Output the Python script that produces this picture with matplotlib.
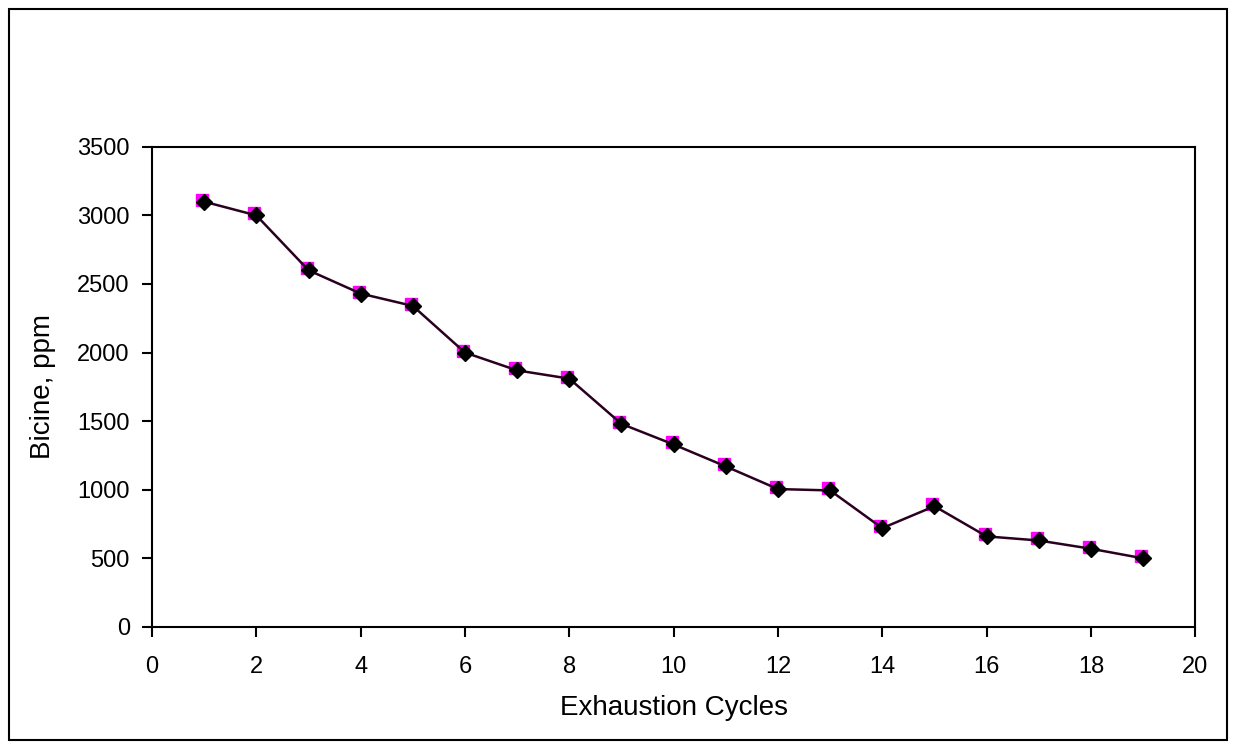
import matplotlib
matplotlib.use("Agg")
import matplotlib.pyplot as plt
import matplotlib.transforms as mtransforms
from matplotlib.patches import Rectangle

cycles = list(range(1, 20))
bicine = [3100, 3000, 2600, 2430, 2340, 2000, 1870, 1810, 1480, 1330,
          1170, 1005, 995, 720, 880, 660, 630, 570, 500]

plt.rcParams['font.family'] = ['Liberation Sans', 'DejaVu Sans']

fig = plt.figure(figsize=(12.36, 7.49), dpi=100)
ax = fig.add_axes([0.123, 0.163, 0.844, 0.641])

# magenta squares sit a touch up-left of the diamonds, as in the original
shift = mtransforms.ScaledTranslation(-2 / 100, 2 / 100, fig.dpi_scale_trans)
ax.plot(cycles, bicine, ls='none', marker='s', ms=9,
        mec='#FF00FF', mfc='#FF00FF', transform=ax.transData + shift)
ax.plot(cycles, bicine, color='#2a0020', lw=1.8, marker='D', ms=8,
        mec='black', mfc='black')

ax.set_xlim(0, 20)
ax.set_ylim(0, 3500)
ax.set_xticks(range(0, 21, 2))
ax.set_yticks(range(0, 3501, 500))
ax.tick_params(direction='out', length=7, width=1.5, labelsize=17)
ax.tick_params(axis='x', pad=14)
ax.tick_params(axis='y', pad=9)
for s in ax.spines.values():
    s.set_linewidth(1.5)
ax.set_xlabel("Exhaustion Cycles", fontsize=20, labelpad=12)
ax.set_ylabel("Bicine, ppm", fontsize=20, labelpad=15)

fig.patches.append(Rectangle((9 / 1236, 9 / 749), 1 - 18 / 1236, 1 - 18 / 749,
                             transform=fig.transFigure, fill=False,
                             edgecolor='black', lw=1.5))

fig.savefig("out.png", dpi=100)
